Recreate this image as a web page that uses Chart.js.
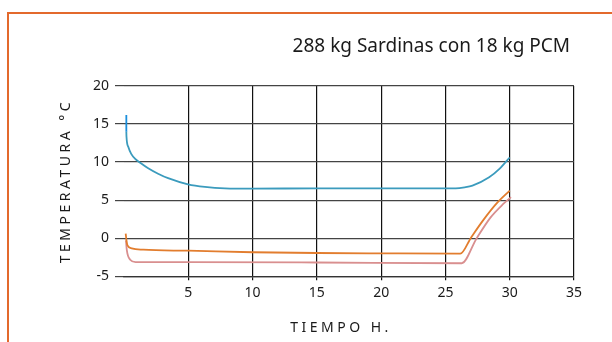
<!DOCTYPE html>
<html>
<head>
<meta charset="utf-8">
<script src="https://cdn.jsdelivr.net/npm/chart.js@4"></script>
<style>
  body { margin: 0; background: #fff; }
  canvas { display: block; }
</style>
</head>
<body>
<canvas id="grafico" width="612" height="342"></canvas>
<script>
// Datos (tiempo en horas, temperatura en °C)
const tituloGrafico = '288 kg Sardinas con 18 kg PCM';
const tituloEjeX = 'TIEMPO H.';
const tituloEjeY = 'TEMPERATURA °C';

const ticksX = [0, 5, 10, 15, 20, 25, 30, 35];
const ticksY = [-5, 0, 5, 10, 15, 20];

// tramo inicial vertical de la curva azul
const tiempoAzulInicio = [0.18, 0.18];
const tempAzulInicio = [16.2, 14.0];

const tiempoAzul = [0.18, 0.19, 0.33, 0.56, 0.87, 1.26, 1.88, 2.65, 3.43, 4.98, 6.29, 7.85, 10, 15, 20, 25, 25.8, 26.5, 27.1, 28.4, 29.2, 30.0];
const tempAzul = [14.0, 13.4, 12.0, 11.08, 10.43, 9.91, 9.19, 8.47, 7.88, 7.07, 6.73, 6.54, 6.5, 6.55, 6.55, 6.55, 6.55, 6.68, 6.9, 8.0, 9.1, 10.6];

const tiempoNaranja = [0.13, 0.2, 0.27, 0.6, 1.5, 5, 10, 15, 20, 26.15, 27.0, 28.0, 29.0, 30.0];
const tempNaranja = [0.6, -0.4, -0.95, -1.35, -1.52, -1.65, -1.85, -1.95, -2.0, -2.04, 0.1, 2.5, 4.6, 6.25];

const tiempoRosa = [0.15, 0.22, 0.48, 0.9, 5, 15, 26.27, 27.4, 28.5, 29.5, 30.1];
const tempRosa = [-0.3, -1.6, -2.83, -3.14, -3.15, -3.2, -3.3, -0.1, 2.7, 4.5, 5.4];

function juntar(xs, ys) {
  return xs.map((x, i) => ({ x: x, y: ys[i] }));
}

function serie(xs, ys, color) {
  return {
    data: juntar(xs, ys),
    borderColor: color,
    borderWidth: 1.8,
    pointRadius: 0,
    fill: false,
    cubicInterpolationMode: 'monotone'
  };
}

// Marco naranja y textos con espaciado de letras
const decoracion = {
  id: 'decoracion',
  afterDraw(chart) {
    const ctx = chart.ctx;
    const area = chart.chartArea;
    ctx.save();
    ctx.strokeStyle = '#e3692c';
    ctx.lineWidth = 2;
    ctx.beginPath();
    ctx.moveTo(8, 342);
    ctx.lineTo(8, 13);
    ctx.lineTo(612, 13);
    ctx.stroke();

    ctx.fillStyle = '#1a1a1a';
    ctx.font = '19px "Noto Sans"';
    ctx.textAlign = 'right';
    ctx.textBaseline = 'middle';
    ctx.fillText(tituloGrafico, 570, 47);

    ctx.font = '14px "Noto Sans"';
    ctx.letterSpacing = '3.5px';
    ctx.textAlign = 'center';
    ctx.fillText(tituloEjeX, 341, 328);

    ctx.translate(66, (area.top + area.bottom) / 2);
    ctx.rotate(-Math.PI / 2);
    ctx.fillText(tituloEjeY, 0, 0);
    ctx.restore();
  }
};

const config = {
  type: 'line',
  data: {
    datasets: [
      serie(tiempoAzulInicio, tempAzulInicio, '#1b8fdc'),
      serie(tiempoAzul, tempAzul, '#3b9bbd'),
      serie(tiempoNaranja, tempNaranja, '#e27d2e'),
      serie(tiempoRosa, tempRosa, '#d98f8f')
    ]
  },
  options: {
    responsive: false,
    animation: false,
    layout: {
      padding: { left: 87, right: 38, top: 86, bottom: 37 }
    },
    plugins: {
      legend: { display: false },
      tooltip: { enabled: false }
    },
    scales: {
      x: {
        type: 'linear',
        min: 0,
        max: 35,
        afterBuildTicks: axis => { axis.ticks = ticksX.map(v => ({ value: v })); },
        ticks: {
          color: '#1a1a1a',
          font: { family: 'Noto Sans', size: 14 },
          padding: 4,
          maxRotation: 0,
          callback: v => (v === 0 ? '' : v)
        },
        grid: {
          color: c => (c.tick && c.tick.value === 0 ? 'rgba(0,0,0,0)' : '#111'),
          lineWidth: 1.2,
          tickLength: 4
        },
        border: { display: true, color: '#333', width: 1.2 }
      },
      y: {
        min: -5,
        max: 20,
        afterBuildTicks: axis => { axis.ticks = ticksY.map(v => ({ value: v })); },
        ticks: {
          color: '#1a1a1a',
          font: { family: 'Noto Sans', size: 14 },
          padding: 6
        },
        grid: {
          color: '#444',
          lineWidth: 1.2,
          tickLength: 9
        },
        border: { display: false }
      }
    }
  },
  plugins: [decoracion]
};

const grafico = new Chart(document.getElementById('grafico'), config);
</script>
</body>
</html>
